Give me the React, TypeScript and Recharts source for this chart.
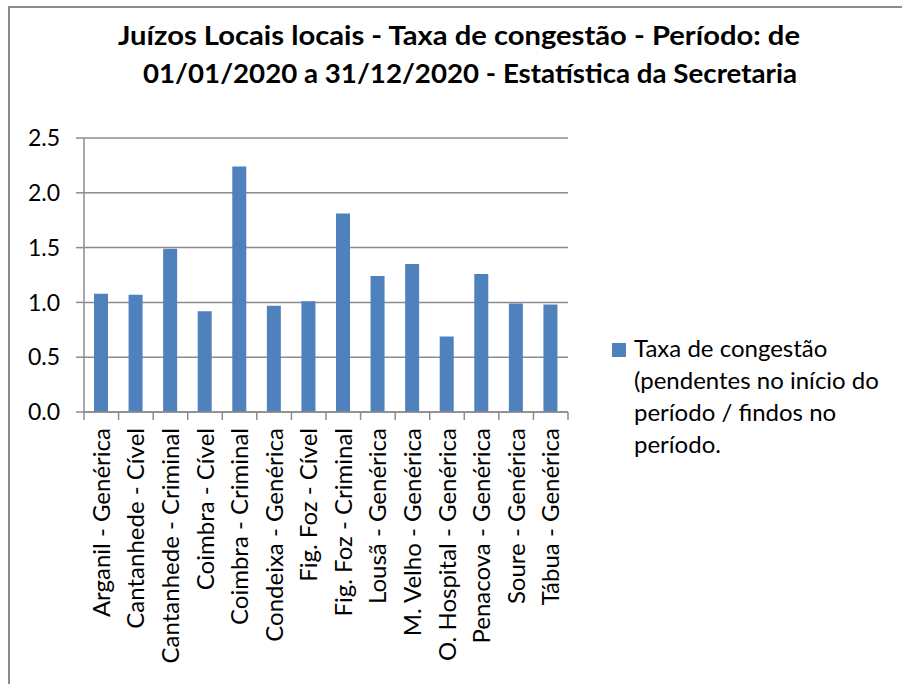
import { BarChart, Bar, XAxis, YAxis, CartesianGrid } from "recharts";

const courts = [
  "Arganil - Genérica",
  "Cantanhede - Cível",
  "Cantanhede - Criminal",
  "Coimbra - Cível",
  "Coimbra - Criminal",
  "Condeixa - Genérica",
  "Fig. Foz - Cível",
  "Fig. Foz - Criminal",
  "Lousã - Genérica",
  "M. Velho - Genérica",
  "O. Hospital - Genérica",
  "Penacova - Genérica",
  "Soure - Genérica",
  "Tábua - Genérica",
];

const congestion = [1.08, 1.07, 1.49, 0.92, 2.24, 0.97, 1.01, 1.81, 1.24, 1.35, 0.69, 1.26, 0.99, 0.98];

const yTicks = [0, 0.5, 1, 1.5, 2, 2.5];

const titleLines = [
  "Juízos Locais locais - Taxa de congestão - Período: de",
  "01/01/2020 a 31/12/2020 - Estatística da Secretaria",
];

const seriesName = "Taxa de congestão (pendentes no início do período / findos no período.";

const FONT = "Lato, 'Open Sans', sans-serif";
const GRID = "#8c8c8c";
const BAR = "#4f81bd";

const data = courts.map((court, i) => ({ court, taxa: congestion[i] }));

function CourtTick(props: any) {
  const { x, y, payload, index } = props;
  const half = payload?.offset || 484 / courts.length / 2;
  return (
    <g>
      <line x1={x - half} x2={x - half} y1={y - 8} y2={y} stroke={GRID} strokeWidth={1.5} />
      {index === courts.length - 1 && (
        <line x1={x + half} x2={x + half} y1={y - 8} y2={y} stroke={GRID} strokeWidth={1.5} />
      )}
      <text
        transform={`translate(${x}, ${y + 8}) rotate(-90)`}
        textAnchor="end"
        dy="0.36em"
        fontSize={24}
        fontFamily={FONT}
        fill="#000"
      >
        {payload.value}
      </text>
    </g>
  );
}

export default function App() {
  return (
    <div style={{ position: "absolute", left: 0, top: 0, width: 902, height: 684, background: "#fff" }}>
      <div
        style={{
          position: "absolute",
          left: 8,
          top: 6,
          width: 894,
          height: 678,
          borderLeft: "2px solid " + GRID,
          borderTop: "2px solid " + GRID,
        }}
      />
      <svg width={902} height={110} style={{ position: "absolute", left: 0, top: 0 }}>
        <text x={459} y={45} textAnchor="middle" fontFamily={FONT} fontWeight={700} fontSize={27} fill="#000" textLength={682} lengthAdjust="spacingAndGlyphs">
          {titleLines[0]}
        </text>
        <text x={470} y={83} textAnchor="middle" fontFamily={FONT} fontWeight={700} fontSize={27} fill="#000" textLength={654} lengthAdjust="spacingAndGlyphs">
          {titleLines[1]}
        </text>
      </svg>
      <div style={{ position: "absolute", left: 0, top: 0 }}>
        <BarChart width={902} height={684} data={data} margin={{ top: 138, right: 334, bottom: 0, left: 24 }}>
          <CartesianGrid vertical={false} stroke={GRID} strokeWidth={1.5} />
          <XAxis
            dataKey="court"
            interval={0}
            height={272}
            tickLine={false}
            axisLine={{ stroke: GRID, strokeWidth: 1.5 }}
            tick={<CourtTick />}
          />
          <YAxis
            width={60}
            domain={[0, 2.5]}
            ticks={yTicks}
            tickFormatter={(v: number) => v.toFixed(1)}
            tickSize={8}
            tickMargin={16}
            tickLine={{ stroke: GRID, strokeWidth: 1.5 }}
            axisLine={{ stroke: GRID, strokeWidth: 1.5 }}
            tick={{ fontSize: 23, fontFamily: FONT, fill: "#000" }}
          />
          <Bar dataKey="taxa" name={seriesName} fill={BAR} barSize={14} isAnimationActive={false} />
        </BarChart>
      </div>
      <div style={{ position: "absolute", left: 612, top: 332, display: "flex", alignItems: "flex-start", fontFamily: FONT }}>
        <span style={{ width: 14, height: 14, background: BAR, marginTop: 11, marginRight: 8, flex: "0 0 auto" }} />
        <span style={{ fontSize: 24, lineHeight: "32px", color: "#000", width: 270 }}>{seriesName}</span>
      </div>
    </div>
  );
}
